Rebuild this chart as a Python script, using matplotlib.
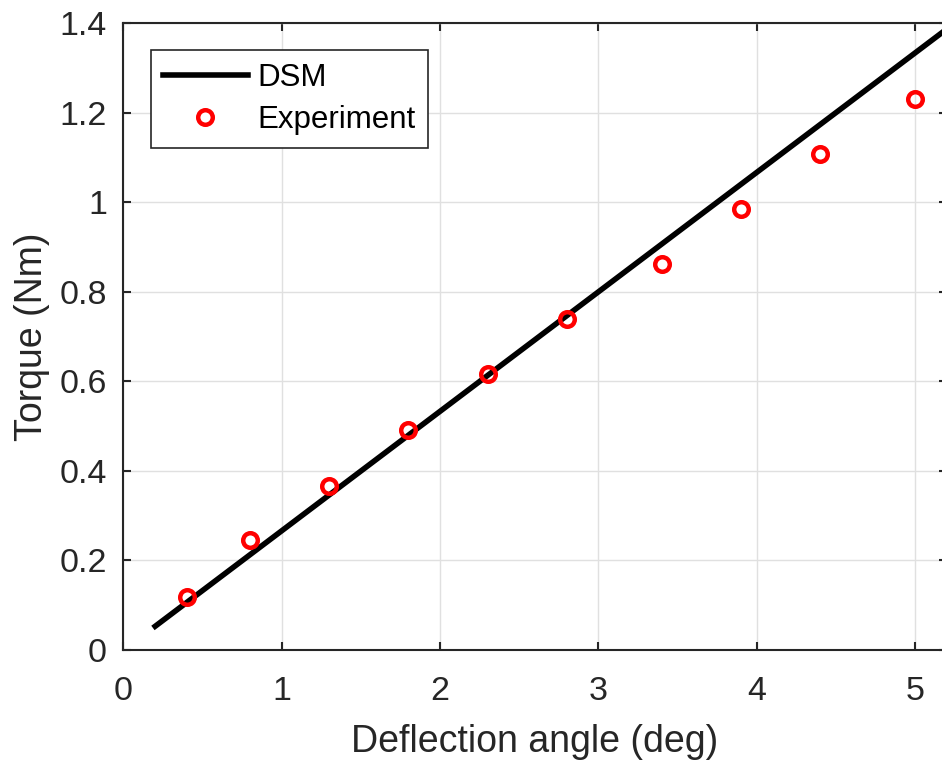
import numpy as np
import matplotlib.pyplot as plt

plt.rcParams['font.family'] = ['Liberation Sans', 'DejaVu Sans']

# DSM prediction (straight line)
dsm_angle = [0.2, 5.2]
dsm_torque = [0.053, 1.387]

# experimental points
exp_angle = [0.4, 0.8, 1.3, 1.8, 2.3, 2.8, 3.4, 3.9, 4.4, 5.0]
exp_torque = [0.118, 0.246, 0.366, 0.491, 0.617, 0.739, 0.862, 0.985, 1.108, 1.231]

xticks = [0, 1, 2, 3, 4, 5]
yticks = [0, 0.2, 0.4, 0.6, 0.8, 1.0, 1.2, 1.4]
yticklabels = ["0", "0.2", "0.4", "0.6", "0.8", "1", "1.2", "1.4"]

fig = plt.figure(figsize=(9.42, 7.64), dpi=100)
# right edge of the box sits just outside the picture, like the reference
ax = fig.add_axes([0.1311, 0.1492, 0.8738, 0.8203])

ax.plot(dsm_angle, dsm_torque, color='k', linewidth=4, label='DSM', zorder=3)
ax.plot(exp_angle, exp_torque, linestyle='none', marker='o', markersize=10.5,
        markerfacecolor='none', markeredgecolor='#ff0000', markeredgewidth=3.2,
        label='Experiment', zorder=4)

ax.set_xlim(0, 5.2)
ax.set_ylim(0, 1.4)
ax.set_xticks(xticks)
ax.set_yticks(yticks)
ax.set_yticklabels(yticklabels)

ax.grid(True, color='#e0e0e0', linewidth=1.0)
ax.set_axisbelow(True)

for s in ax.spines.values():
    s.set_color('#262626')
    s.set_linewidth(1.5)

ax.tick_params(which='both', direction='in', length=6, width=1.5,
               top=True, right=True, labelsize=24.5, colors='#262626')
ax.tick_params(axis='x', pad=19)
ax.tick_params(axis='y', pad=12)

ax.set_xlabel('Deflection angle (deg)', fontsize=27, color='#262626', labelpad=12)
ax.set_ylabel('Torque (Nm)', fontsize=27, color='#262626', labelpad=7)

leg = ax.legend(loc='upper left', bbox_to_anchor=(0.033, 0.957), fontsize=22.5,
                frameon=True, fancybox=False, framealpha=1, edgecolor='#262626',
                handlelength=2.7, handletextpad=0.3, borderpad=0.4,
                labelspacing=0.4, borderaxespad=0)
leg.get_frame().set_linewidth(1.2)

fig.savefig('out.png', dpi=100)
